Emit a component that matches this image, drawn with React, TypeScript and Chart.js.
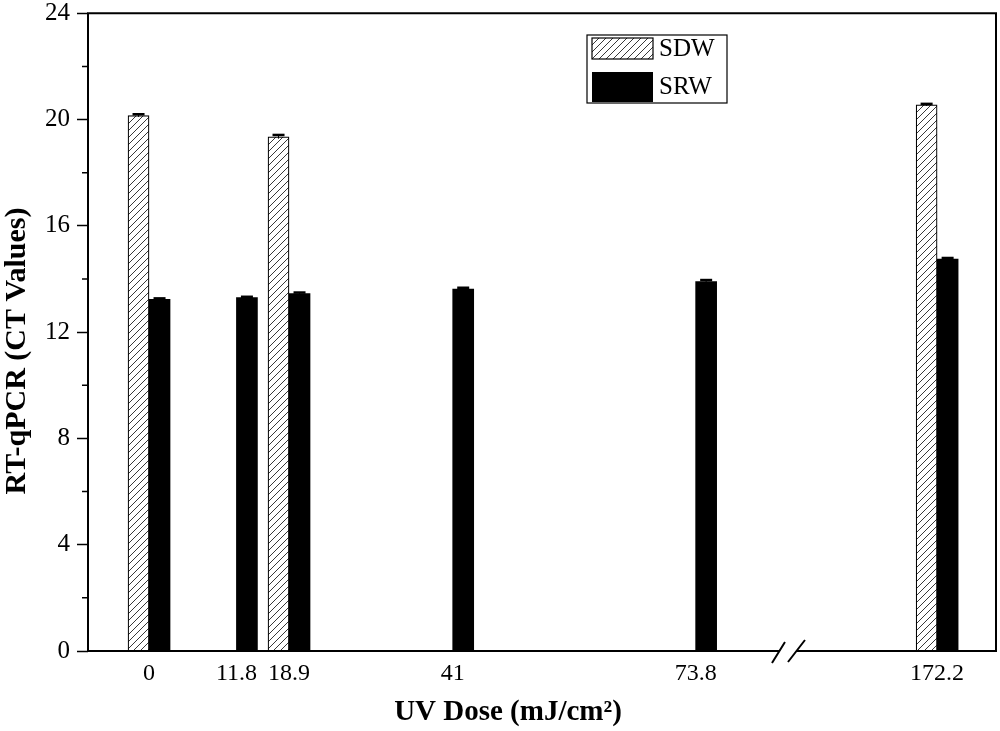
import { useEffect, useRef } from "react"
import { Chart, registerables, type Plugin } from "chart.js"

Chart.register(...registerables)

const doses = [0, 11.8, 18.9, 41, 73.8, 172.2]
const doseLabels = ["0", "11.8", "18.9", "41", "73.8", "172.2"]
const sdwValues = [20.15, null, 19.35, null, null, 20.55]
const sdwErrors = [0.05, null, 0.07, null, null, 0.04]
const srwValues = [13.23, 13.3, 13.45, 13.62, 13.9, 14.75]
const srwErrors = [0.04, 0.03, 0.04, 0.05, 0.06, 0.04]
const yTicks = [0, 4, 8, 12, 16, 20, 24]
const yMinorTicks = [2, 6, 10, 14, 18, 22]

// broken x axis: doses between these two are cut out
const BREAK_FROM = 86.4
const BREAK_TO = 152.2
const axisPos = (d: number) => (d <= BREAK_FROM ? d : BREAK_FROM + (d - BREAK_TO))

const SERIF = '"Liberation Serif", "Times New Roman", serif'

function hatchPattern(): CanvasPattern | string {
  const c = document.createElement("canvas")
  c.width = 7
  c.height = 7
  const g = c.getContext("2d")
  if (!g) return "#fff"
  g.fillStyle = "#fff"
  g.fillRect(0, 0, 7, 7)
  g.strokeStyle = "#222"
  g.lineWidth = 0.9
  g.beginPath()
  g.moveTo(-1, 8)
  g.lineTo(8, -1)
  g.moveTo(-2, 2)
  g.lineTo(2, -2)
  g.moveTo(5, 9)
  g.lineTo(9, 5)
  g.stroke()
  return g.createPattern(c, "repeat") ?? "#fff"
}

const errorBars: Plugin = {
  id: "errorBars",
  afterDatasetsDraw(chart) {
    const { ctx } = chart
    const y = chart.scales.y
    const errs = [sdwErrors, srwErrors]
    ctx.save()
    ctx.strokeStyle = "#000"
    chart.data.datasets.forEach((ds, di) => {
      const meta = chart.getDatasetMeta(di)
      meta.data.forEach((bar, i) => {
        const pt = ds.data[i] as { x: number; y: number | null }
        const e = errs[di][i]
        if (pt.y == null || e == null) return
        const x = bar.x
        const top = y.getPixelForValue(pt.y + e)
        const bot = y.getPixelForValue(pt.y - e)
        ctx.lineWidth = 1
        ctx.beginPath()
        ctx.moveTo(x, top)
        ctx.lineTo(x, bot)
        ctx.stroke()
        ctx.lineWidth = 2.5
        ctx.beginPath()
        ctx.moveTo(x - 6, top)
        ctx.lineTo(x + 6, top)
        ctx.stroke()
      })
    })
    ctx.restore()
  },
}

const frame: Plugin = {
  id: "frame",
  afterDraw(chart) {
    const { ctx, chartArea: a } = chart
    const y = chart.scales.y
    const x = chart.scales.x
    ctx.save()
    ctx.strokeStyle = "#000"
    ctx.lineWidth = 2
    ctx.strokeRect(a.left, a.top, a.right - a.left, a.bottom - a.top)
    // minor ticks on the y axis
    ctx.lineWidth = 1.5
    ctx.beginPath()
    yMinorTicks.forEach((v) => {
      const py = y.getPixelForValue(v)
      ctx.moveTo(a.left, py)
      ctx.lineTo(a.left - 6, py)
    })
    ctx.stroke()
    // axis break marks
    const bx = x.getPixelForValue(BREAK_FROM)
    const by = a.bottom
    ctx.fillStyle = "#fff"
    ctx.fillRect(bx - 9, by - 2, 16, 4)
    ctx.lineWidth = 2
    ctx.beginPath()
    ctx.moveTo(bx - 17, by + 12)
    ctx.lineTo(bx - 4, by - 9)
    ctx.moveTo(bx - 1, by + 11)
    ctx.lineTo(bx + 16, by - 11)
    ctx.stroke()

    // axis titles
    ctx.fillStyle = "#000"
    ctx.textAlign = "center"
    ctx.textBaseline = "middle"
    ctx.font = `bold 30px ${SERIF}`
    ctx.save()
    ctx.translate(17, 351)
    ctx.rotate(-Math.PI / 2)
    ctx.fillText("RT-qPCR (CT Values)", 0, 0)
    ctx.restore()
    ctx.font = `bold 29px ${SERIF}`
    ctx.fillText("UV Dose (mJ/cm²)", 508, 713)

    // legend
    const lx = 587
    const ly = 35
    ctx.lineWidth = 1.2
    ctx.strokeRect(lx, ly, 140, 68)
    const sdw = chart.data.datasets[0]
    ctx.fillStyle = sdw.backgroundColor as any
    ctx.fillRect(lx + 5, ly + 3, 61, 21)
    ctx.strokeRect(lx + 5, ly + 3, 61, 21)
    ctx.fillStyle = "#000"
    ctx.fillRect(lx + 5, ly + 37, 61, 30)
    ctx.font = `25px ${SERIF}`
    ctx.textAlign = "left"
    ctx.fillText(sdw.label ?? "", lx + 72, ly + 14)
    ctx.fillText(chart.data.datasets[1].label ?? "", lx + 72, ly + 52)
    ctx.restore()
  },
}

export default function App() {
  const canvasRef = useRef<HTMLCanvasElement>(null)
  const chartRef = useRef<Chart | null>(null)

  useEffect(() => {
    if (!canvasRef.current) return
    if (chartRef.current) chartRef.current.destroy()

    const hatch = hatchPattern()
    const sdwData = doses.map((d, i) => ({ x: axisPos(d), y: sdwValues[i] }))
    const srwData = doses.map((d, i) => ({ x: axisPos(d), y: srwValues[i] }))

    chartRef.current = new Chart(canvasRef.current, {
      type: "bar",
      data: {
        datasets: [
          {
            label: "SDW",
            data: sdwData as any,
            backgroundColor: hatch as any,
            borderColor: "#000",
            borderWidth: 1.2,
            barThickness: 21,
          },
          {
            label: "SRW",
            data: srwData as any,
            backgroundColor: "#000",
            borderWidth: 0,
            barThickness: 21,
          },
        ],
      },
      options: {
        animation: false,
        responsive: true,
        maintainAspectRatio: false,
        layout: { padding: { top: 12, right: 4, left: 0, bottom: 0 } },
        plugins: {
          legend: { display: false },
          tooltip: { enabled: false },
        },
        scales: {
          x: {
            type: "linear",
            offset: false,
            min: -8.24,
            max: 114.35,
            grid: { display: false, drawTicks: false },
            border: { display: false },
            afterBuildTicks: (s: any) => {
              s.ticks = doses.map((d) => ({ value: axisPos(d) }))
            },
            afterFit: (s: any) => {
              s.height = 80
            },
            ticks: {
              autoSkip: false,
              maxRotation: 0,
              padding: 8,
              color: "#000",
              font: { family: SERIF, size: 24 },
              callback: (_v: any, i: number) => doseLabels[i],
            },
          },
          y: {
            min: 0,
            max: 24,
            grid: {
              display: true,
              drawOnChartArea: false,
              drawTicks: true,
              tickLength: 11,
              tickWidth: 1.5,
              tickColor: "#000",
            },
            border: { display: false },
            afterBuildTicks: (s: any) => {
              s.ticks = yTicks.map((v) => ({ value: v }))
            },
            afterFit: (s: any) => {
              s.width = 88
            },
            ticks: {
              padding: 7,
              color: "#000",
              font: { family: SERIF, size: 25, lineHeight: 0.5 },
            },
          },
        },
      },
      plugins: [errorBars, frame],
    })

    return () => {
      if (chartRef.current) {
        chartRef.current.destroy()
        chartRef.current = null
      }
    }
  }, [])

  return (
    <div style={{ position: "absolute", left: 0, top: 0, width: 1000, height: 731, background: "#fff" }}>
      <canvas ref={canvasRef} />
    </div>
  )
}
